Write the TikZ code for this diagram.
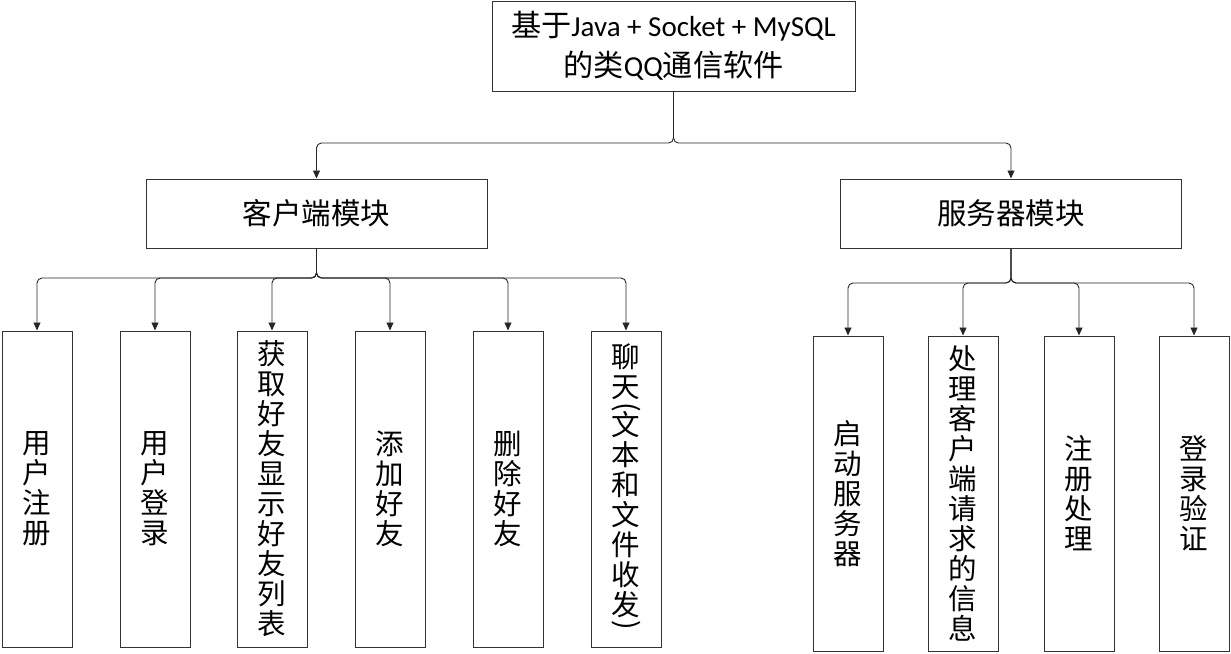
\documentclass[tikz,border=0pt]{standalone}
\usepackage{fontspec}
\usepackage{graphicx}
\setmainfont{Carlito}
\newfontfamily\cjk{Noto Sans CJK SC}
\newfontfamily\cjkmix[Scale=1.04]{Noto Sans CJK SC}
\usetikzlibrary{arrows.meta}

\newcommand{\vparen}[1]{\rotatebox[origin=c]{-90}{#1}}

\tikzset{
  topbox/.style={draw=black!80, line width=1pt, minimum width=363pt, minimum height=90pt,
    inner sep=0pt, align=center, font=\fontsize{29}{40}\selectfont},
  modbox/.style={draw=black!80, line width=1pt, minimum width=341pt, minimum height=69pt,
    inner sep=0pt, align=center, font=\cjk\fontsize{29.5}{34}\selectfont},
  vbox/.style={draw=black!80, line width=1pt, minimum width=70pt, minimum height=316pt,
    inner sep=0pt, align=center, font=\cjk\fontsize{28.5}{30}\selectfont},
  link/.style={draw=black!85, line width=0.9pt, rounded corners=5pt,
    -{Triangle[length=8pt,width=7pt]}}
}

\begin{document}
\begin{tikzpicture}[x=1pt,y=-1pt]

    \useasboundingbox (0,0) rectangle (1231,653);

    % root
    \node [topbox] (root) at (673.5,46) {{\cjkmix 基于}Java + Socket + MySQL\\{\cjkmix 的类}QQ{\cjkmix 通信软件}};

    % modules
    \node [modbox] (client) at (316.5,213.5) {客户端模块};
    \node [modbox] (server) at (1011,213.5) {服务器模块};

    % client functions
    \node [vbox] (reg)   at (37,489)  {用\\户\\注\\册};
    \node [vbox] (login) at (155,489) {用\\户\\登\\录};
    \node [vbox] (list)  at (272,489) {获\\取\\好\\友\\显\\示\\好\\友\\列\\表};
    \node [vbox] (add)   at (390,489) {添\\加\\好\\友};
    \node [vbox] (del)   at (508,489) {删\\除\\好\\友};
    \node [vbox] (chat)  at (626,489) {聊\\天\\[-11pt]\vparen{(}\\[-11pt]文\\本\\和\\文\\件\\收\\发\\[-11pt]\vparen{)}};

    % server functions
    \node [vbox, minimum height=315pt] (start)  at (848,493.5)  {启\\动\\服\\务\\器};
    \node [vbox, minimum height=315pt] (handle) at (963,493.5)  {处\\理\\客\\户\\端\\请\\求\\的\\信\\息};
    \node [vbox, minimum height=315pt] (sreg)   at (1079,493.5) {注\\册\\处\\理};
    \node [vbox, minimum height=315pt] (check)  at (1194,493.5) {登\\录\\验\\证};

    \coordinate (rootbus) at (673.5,143);
    \coordinate (clientbus) at (316.5,278);
    \coordinate (serverbus) at (1011,283);

    \draw [link] (root.south) -- (rootbus) -| (client.north);
    \draw [link] (root.south) -- (rootbus) -| (server.north);

    \draw [link] (client.south) -- (clientbus) -| (reg.north);
    \draw [link] (client.south) -- (clientbus) -| (login.north);
    \draw [link] (client.south) -- (clientbus) -| (list.north);
    \draw [link] (client.south) -- (clientbus) -| (add.north);
    \draw [link] (client.south) -- (clientbus) -| (del.north);
    \draw [link] (client.south) -- (clientbus) -| (chat.north);

    \draw [link] (server.south) -- (serverbus) -| (start.north);
    \draw [link] (server.south) -- (serverbus) -| (handle.north);
    \draw [link] (server.south) -- (serverbus) -| (sreg.north);
    \draw [link] (server.south) -- (serverbus) -| (check.north);

\end{tikzpicture}
\end{document}
